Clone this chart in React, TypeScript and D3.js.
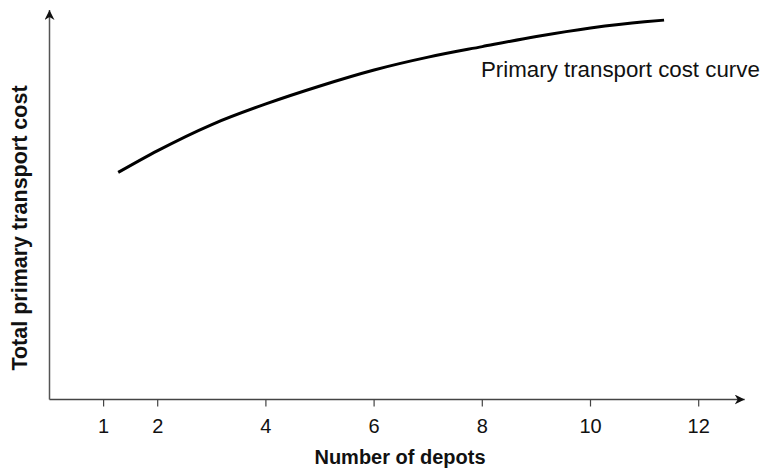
import { useEffect, useRef } from 'react';
import * as d3 from 'd3';

// number of depots vs. relative total cost (0–100 scale)
const depots = [1.27, 2, 3, 4, 5, 6, 7, 8, 9, 10, 11, 11.36];
const cost = [58.3, 63.9, 70.6, 75.9, 80.5, 84.6, 87.9, 90.6, 93.2, 95.4, 97.0, 97.4];
const xTicks = [1, 2, 4, 6, 8, 10, 12];
const curveLabel = 'Primary transport cost curve';
const xTitle = 'Number of depots';
const yTitle = 'Total primary transport cost';

const WIDTH = 767;
const HEIGHT = 468;

export default function App() {
  const svgRef = useRef<SVGSVGElement>(null);

  useEffect(() => {
    if (!svgRef.current) return;
    const svg = d3.select(svgRef.current);
    svg.selectAll('*').remove();

    const font = '"Liberation Sans", Arial, Helvetica, sans-serif';
    const axisY = 399.5;
    const axisX = 49.5;

    const x = d3.scaleLinear().domain([0, 2]).range([axisX, 157.7]);
    const y = d3.scaleLinear().domain([0, 100]).range([axisY, 10]);

    const defs = svg.append('defs');
    defs
      .append('marker')
      .attr('id', 'arrow')
      .attr('viewBox', '0 0 10 10')
      .attr('refX', 10)
      .attr('refY', 5)
      .attr('markerWidth', 10)
      .attr('markerHeight', 10)
      .attr('markerUnits', 'userSpaceOnUse')
      .attr('orient', 'auto')
      .append('path')
      .attr('d', 'M0,0 L10,5 L0,10 L3,5 Z')
      .attr('fill', '#111');

    // axes
    svg
      .append('line')
      .attr('x1', axisX)
      .attr('x2', x(12.85))
      .attr('y1', axisY)
      .attr('y2', axisY)
      .attr('stroke', '#444')
      .attr('stroke-width', 1.5)
      .attr('marker-end', 'url(#arrow)');

    svg
      .append('line')
      .attr('x1', axisX)
      .attr('x2', axisX)
      .attr('y1', axisY)
      .attr('y2', y(100))
      .attr('stroke', '#555')
      .attr('stroke-width', 1.5)
      .attr('marker-end', 'url(#arrow)');

    const ticks = svg.append('g');
    ticks
      .selectAll('line')
      .data(xTicks)
      .join('line')
      .attr('x1', (d) => x(d))
      .attr('x2', (d) => x(d))
      .attr('y1', axisY)
      .attr('y2', axisY + 7)
      .attr('stroke', '#444')
      .attr('stroke-width', 1.2);

    ticks
      .selectAll('text')
      .data(xTicks)
      .join('text')
      .attr('x', (d) => x(d))
      .attr('y', 433)
      .attr('text-anchor', 'middle')
      .attr('fill', '#111')
      .style('font-family', font)
      .style('font-size', '20px')
      .text((d) => d);

    // curve
    const line = d3
      .line<number>()
      .x((_, i) => x(depots[i]))
      .y((d) => y(d))
      .curve(d3.curveMonotoneX);

    svg
      .append('path')
      .datum(cost)
      .attr('fill', 'none')
      .attr('stroke', '#000')
      .attr('stroke-width', 3)
      .attr('d', line);

    svg
      .append('text')
      .attr('x', 481)
      .attr('y', 77)
      .attr('fill', '#111')
      .style('font-family', font)
      .style('font-size', '22.3px')
      .text(curveLabel);

    // titles
    svg
      .append('text')
      .attr('x', 400)
      .attr('y', 464)
      .attr('text-anchor', 'middle')
      .attr('fill', '#111')
      .style('font-family', font)
      .style('font-size', '20px')
      .style('font-weight', 'bold')
      .text(xTitle);

    svg
      .append('text')
      .attr('transform', `translate(27, 228) rotate(-90)`)
      .attr('text-anchor', 'middle')
      .attr('fill', '#111')
      .style('font-family', font)
      .style('font-size', '21.5px')
      .style('font-weight', 'bold')
      .text(yTitle);
  }, []);

  return (
    <div style={{ position: 'absolute', left: 0, top: 0, background: '#fff' }}>
      <svg ref={svgRef} width={WIDTH} height={HEIGHT} style={{ display: 'block' }} />
    </div>
  );
}
